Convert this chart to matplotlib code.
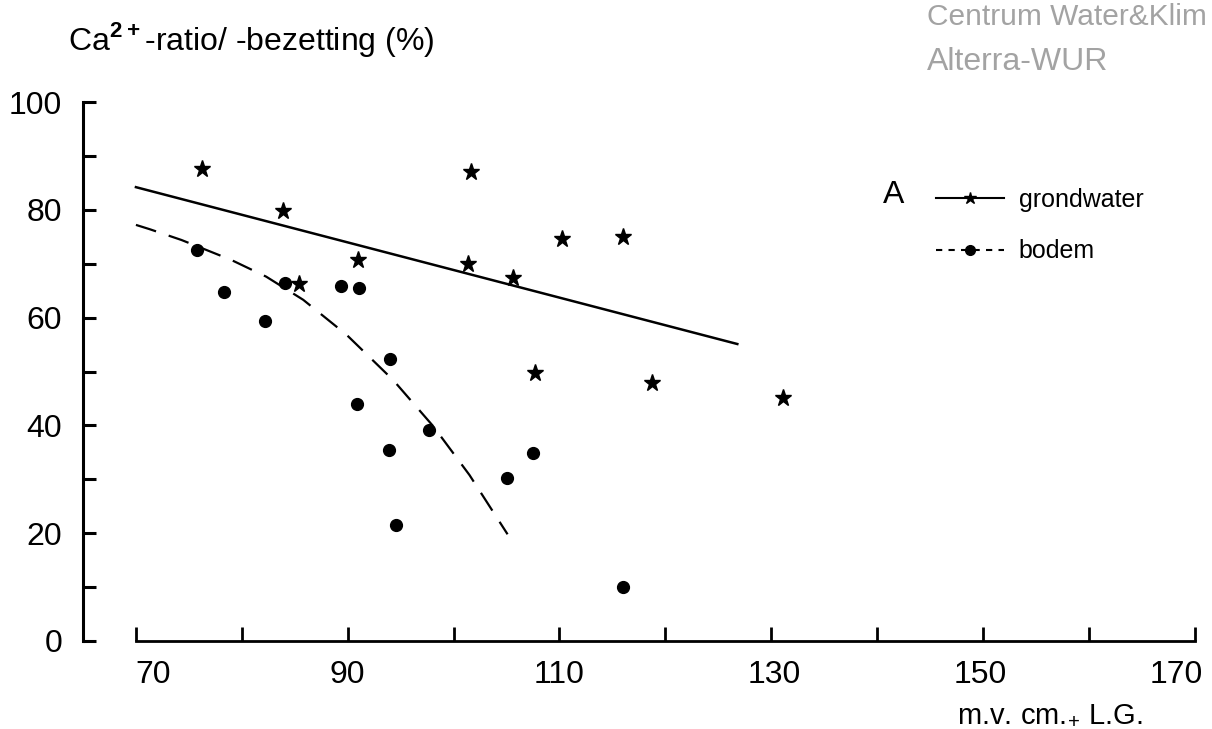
import numpy as np
import matplotlib
matplotlib.use('Agg')
import matplotlib.pyplot as plt
import matplotlib.transforms as mtransforms
from matplotlib.lines import Line2D

plt.rcParams['font.family'] = ['Liberation Sans', 'DejaVu Sans']
plt.rcParams['mathtext.fontset'] = 'custom'
plt.rcParams['mathtext.rm'] = 'Liberation Sans'
plt.rcParams['mathtext.bf'] = 'Liberation Sans:bold'

# grondwater: depth (m.v. cm + L.G.) vs Ca2+ ratio (%)
gw_x = [76.2, 83.9, 85.4, 91.0, 101.4, 101.6, 105.6, 107.7, 110.2, 116.0, 118.7, 131.1]
gw_y = [87.5, 79.8, 66.2, 70.7, 69.9, 87.1, 67.3, 49.7, 74.6, 74.9, 47.8, 45.0]

# bodem: Ca2+ bezetting (%)
bo_x = [75.8, 78.3, 82.2, 84.1, 89.4, 91.1, 94.0, 90.9, 97.7, 93.9, 107.5, 105.0, 94.6, 116.0]
bo_y = [72.6, 64.7, 59.4, 66.5, 65.9, 65.4, 52.3, 43.9, 39.1, 35.4, 34.8, 30.2, 21.5, 10.0]

# fitted trends
gw_fit_x = [70.0, 126.8]
gw_fit_y = [84.2, 55.1]
bo_fit_x = [70.0, 71.3, 74.3, 79.0, 82.3, 85.8, 89.9, 94.3, 98.1, 101.5, 105.1]
bo_fit_y = [77.2, 76.4, 74.4, 70.7, 67.6, 63.3, 56.8, 48.4, 39.8, 30.8, 19.8]

xticks = list(range(70, 171, 10))
xlabels = ['70', '', '90', '', '110', '', '130', '', '150', '', '170']
yticks = list(range(0, 101, 10))
ylabels = ['0', '', '20', '', '40', '', '60', '', '80', '', '100']

W, H = 1212, 729
fig = plt.figure(figsize=(W / 100, H / 100), dpi=100)
ax = fig.add_axes([83 / W, 88 / H, 1117 / W, 539 / H])
ax.set_xlim(65.0, 170.5)
ax.set_ylim(0, 100)

ax.plot(gw_fit_x, gw_fit_y, '-', color='black', lw=1.8, clip_on=False)
ax.plot(bo_fit_x, bo_fit_y, '--', color='black', lw=1.6, dashes=(9.5, 6), clip_on=False)
ax.plot(gw_x, gw_y, '*', color='black', ms=12.5, clip_on=False)
ax.plot(bo_x, bo_y, 'o', color='black', ms=8.5, clip_on=False)

for s in ['top', 'right']:
    ax.spines[s].set_visible(False)
ax.spines['left'].set_linewidth(2.2)
ax.spines['bottom'].set_linewidth(2.0)
ax.spines['left'].set_bounds(0, 100)
ax.spines['bottom'].set_bounds(70, 170)

ax.set_xticks(xticks)
ax.set_xticklabels(xlabels)
ax.set_yticks(yticks)
ax.set_yticklabels(ylabels)
ax.tick_params(axis='y', direction='in', length=9, width=2.2, pad=15, labelsize=23)
ax.tick_params(axis='x', direction='in', length=10, width=2.0, pad=14, labelsize=23)

# end labels are pulled inward, away from the axis ends
shifts = [17, 0, 0, 0, 0, 0, 3, 0, -3, 0, -18]
for lbl, dx in zip(ax.get_xticklabels(), shifts):
    lbl.set_transform(lbl.get_transform() +
                      mtransforms.ScaledTranslation(dx / 100, 0, fig.dpi_scale_trans))

fig.text(68 / W, 1 - 50 / H, r'Ca$^{\mathbf{2+}}$-ratio/ -bezetting (%)', fontsize=23,
         ha='left', va='baseline')
fig.text(1142 / W, 1 - 722 / H, r'm.v. cm.$_{+}$ L.G.', fontsize=21,
         ha='right', va='baseline')

fig.text(927 / W, 1 - 25 / H, 'Centrum Water&Klim', fontsize=21.5, color='#a3a3a3',
         ha='left', va='baseline')
fig.text(927 / W, 1 - 70 / H, 'Alterra-WUR', fontsize=23, color='#a3a3a3',
         ha='left', va='baseline')

fig.text(883 / W, 1 - 203 / H, 'A', fontsize=23, ha='left', va='baseline')
handles = [Line2D([], [], color='black', lw=1.5, marker='*', ms=9),
           Line2D([], [], color='black', lw=1.5, ls='--', dashes=(3, 3), marker='o', ms=7)]
fig.legend(handles, ['grondwater', 'bodem'], loc='upper left',
           bbox_to_anchor=(936 / W, 1 - 188 / H), frameon=False, fontsize=18,
           handlelength=2.7, handletextpad=0.6, labelspacing=1.1, borderpad=0,
           borderaxespad=0)

fig.savefig('out.png', dpi=100)
